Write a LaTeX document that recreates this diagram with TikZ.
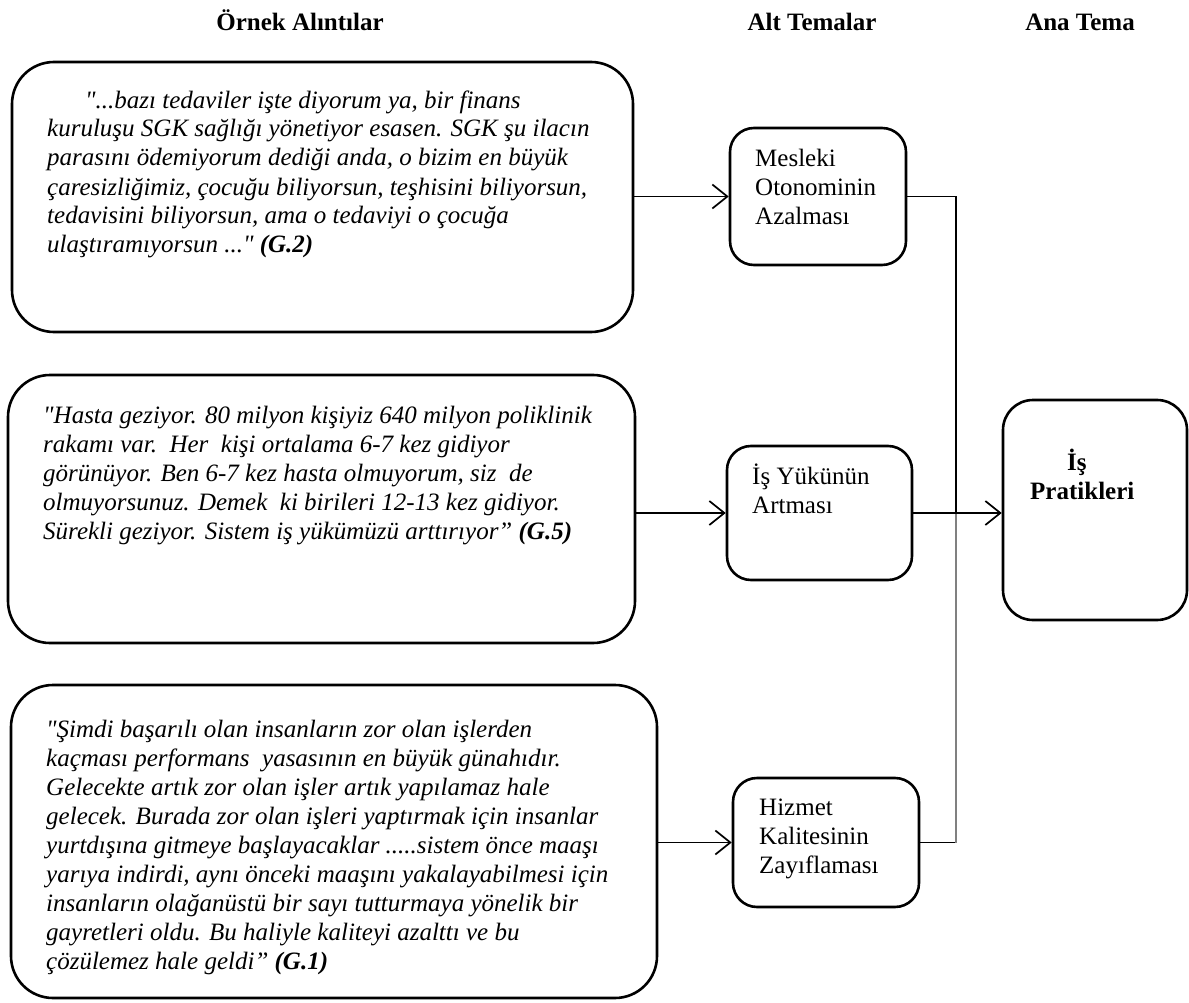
\documentclass[tikz,border=0pt]{standalone}
\usepackage{fontspec}
\setmainfont{Liberation Serif}
\newfontfamily\qf{Liberation Serif}
\usetikzlibrary{arrows.meta}
\tikzset{
  box/.style={draw=black, line width=2.6pt, fill=white, inner sep=0pt},
  qbox/.style={box, rounded corners=42pt},
  tbox/.style={box, rounded corners=24pt},
  pbox/.style={box, rounded corners=30pt},
  qtext/.style={anchor=base west, align=left, inner sep=0pt, font=\qf\fontsize{25}{29}\selectfont\itshape},
  ttext/.style={anchor=base west, align=left, inner sep=0pt, font=\qf\fontsize{25}{29}\selectfont},
  head/.style={anchor=base, inner sep=0pt, font=\qf\fontsize{25}{29}\selectfont\bfseries},
  conn/.style={line width=1.7pt, draw=black},
  arr/.style={conn, -{Straight Barb[length=15pt,width=24pt,line width=1.7pt]}},
}
\begin{document}
\begin{tikzpicture}[x=1pt,y=-1pt]
\useasboundingbox (0,0) rectangle (1189,1003);
% headings
\node[head] (h1) at (300,31) {Örnek Alıntılar};
\node[head] (h2) at (812,31) {Alt Temalar};
\node[head] (h3) at (1080,31) {Ana Tema};
% quote boxes
\node[qbox, minimum width=621pt, minimum height=270pt] (q1) at (322.5,197) {};
\node[qbox, minimum width=627pt, minimum height=268pt] (q2) at (321.5,509) {};
\node[qbox, minimum width=646pt, minimum height=313pt] (q3) at (334,841.5) {};
% theme boxes
\node[tbox, minimum width=176pt, minimum height=137pt] (mes) at (818,196.5) {};
\node[tbox, minimum width=185pt, minimum height=134pt] (isy) at (819.5,513) {};
\node[tbox, minimum width=186pt, minimum height=129pt] (hiz) at (826,842.5) {};
\node[pbox, minimum width=184pt, minimum height=220pt] (pr) at (1095,510) {};
% quote texts (anchored at the baseline of the last line)
\node[qtext] (t1) at (47,253) {\hspace*{38pt}"...bazı tedaviler işte diyorum ya, bir finans\\
kuruluşu SGK sağlığı yönetiyor esasen. SGK şu ilacın\\
parasını ödemiyorum dediği anda, o bizim en büyük\\
çaresizliğimiz, çocuğu biliyorsun, teşhisini biliyorsun,\\
tedavisini biliyorsun, ama o tedaviyi o çocuğa\\
ulaştıramıyorsun ..." \textbf{(G.2)}};
\node[qtext] (t2) at (43,539) {"Hasta geziyor. 80 milyon kişiyiz 640 milyon poliklinik\\
rakamı var.\ \ Her\ \ kişi ortalama 6-7 kez gidiyor\\
görünüyor. Ben 6-7 kez hasta olmuyorum, siz\ \ de\\
olmuyorsunuz. Demek\ \ ki birileri 12-13 kez gidiyor.\\
Sürekli geziyor. Sistem iş yükümüzü arttırıyor” \textbf{(G.5)}};
\node[qtext] (t3) at (46,969) {"Şimdi başarılı olan insanların zor olan işlerden\\
kaçması performans\ \ yasasının en büyük günahıdır.\\
Gelecekte artık zor olan işler artık yapılamaz hale\\
gelecek. Burada zor olan işleri yaptırmak için insanlar\\
yurtdışına gitmeye başlayacaklar .....sistem önce maaşı\\
yarıya indirdi, aynı önceki maaşını yakalayabilmesi için\\
insanların olağanüstü bir sayı tutturmaya yönelik bir\\
gayretleri oldu. Bu haliyle kaliteyi azalttı ve bu\\
çözülemez hale geldi” \textbf{(G.1)}};
% theme texts
\node[ttext] (mesT) at (755,225) {Mesleki\\Otonominin\\Azalması};
\node[ttext] (isyT) at (752,513) {İş Yükünün\\Artması};
\node[ttext] (hizT) at (759,873) {Hizmet\\Kalitesinin\\Zayıflaması};
\node[ttext, font=\qf\fontsize{25}{29}\selectfont\bfseries] (prT) at (1030,499) {\hspace*{37pt}İş\\Pratikleri};
% connectors
\draw[arr] (mes.west -| q1.east) -- (mes.west);
\draw[arr] (isy.west -| q2.east) -- (isy.west);
\draw[arr] (hiz.west -| q3.east) -- (hiz.west);
\coordinate (J) at (956,513);
\coordinate (K) at (hiz.east -| J);
\draw[conn] (mes.east) -| (J);
\draw[conn] (hiz.east) -- (K);
\draw[conn, draw=black!50] (K) -- (J);
\draw[arr] (isy.east) -- (isy.east -| pr.west);
\end{tikzpicture}
\end{document}
